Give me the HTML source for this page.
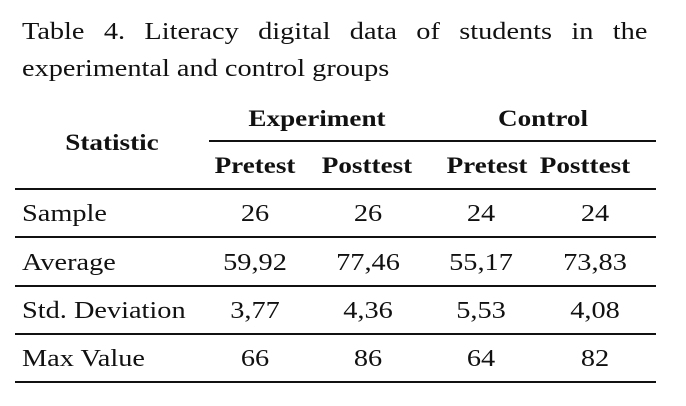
<!DOCTYPE html>
<html><head><style>
body{margin:0;width:686px;height:406px;background:#fff;position:relative;font-family:"Liberation Serif",serif;color:#111;overflow:hidden}
.t{position:absolute;white-space:nowrap;font-size:24px;line-height:24px;transform:scaleX(1.18);transform-origin:0 0}
.c{transform:translateX(-50%) scaleX(1.18);transform-origin:50% 0}
.b{font-weight:bold;font-size:23px}
.l{position:absolute;height:2px;background:#111}
</style></head><body>
<div class="t" style="left:22px;top:20px;width:530px;text-align:justify;text-align-last:justify">Table 4. Literacy digital data of students in the</div>
<div class="t" style="left:22px;top:57px">experimental and control groups</div>
<div class="t b c" style="left:317px;top:107px">Experiment</div>
<div class="t b c" style="left:543px;top:107px">Control</div>
<div class="t b c" style="left:112px;top:131px">Statistic</div>
<div class="l" style="left:209px;top:140px;width:447px"></div>
<div class="t b c" style="left:255px;top:154px">Pretest</div>
<div class="t b c" style="left:367px;top:154px">Posttest</div>
<div class="t b c" style="left:487px;top:154px">Pretest</div>
<div class="t b c" style="left:585px;top:154px">Posttest</div>
<div class="l" style="left:15px;top:188px;width:641px"></div>
<div class="t" style="left:22px;top:202px">Sample</div>
<div class="t c" style="left:255px;top:202px">26</div><div class="t c" style="left:368px;top:202px">26</div><div class="t c" style="left:481px;top:202px">24</div><div class="t c" style="left:595px;top:202px">24</div>
<div class="l" style="left:15px;top:236px;width:641px"></div>
<div class="t" style="left:22px;top:251px">Average</div>
<div class="t c" style="left:255px;top:251px">59,92</div><div class="t c" style="left:368px;top:251px">77,46</div><div class="t c" style="left:481px;top:251px">55,17</div><div class="t c" style="left:595px;top:251px">73,83</div>
<div class="l" style="left:15px;top:285px;width:641px"></div>
<div class="t" style="left:22px;top:299px">Std. Deviation</div>
<div class="t c" style="left:255px;top:299px">3,77</div><div class="t c" style="left:368px;top:299px">4,36</div><div class="t c" style="left:481px;top:299px">5,53</div><div class="t c" style="left:595px;top:299px">4,08</div>
<div class="l" style="left:15px;top:333px;width:641px"></div>
<div class="t" style="left:22px;top:347px">Max Value</div>
<div class="t c" style="left:255px;top:347px">66</div><div class="t c" style="left:368px;top:347px">86</div><div class="t c" style="left:481px;top:347px">64</div><div class="t c" style="left:595px;top:347px">82</div>
<div class="l" style="left:15px;top:381px;width:641px"></div>
</body></html>
